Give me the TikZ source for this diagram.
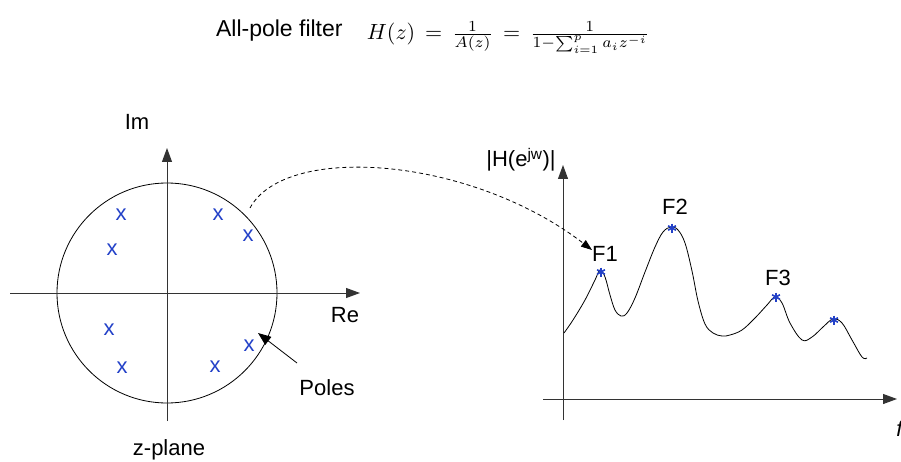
\documentclass[tikz,border=0pt]{standalone}
\usepackage[no-math]{fontspec}
\setmainfont{Liberation Sans}
\usepackage{amsmath}
\usetikzlibrary{arrows.meta}
\usetikzlibrary{calc}
\definecolor{polecol}{RGB}{35,65,200}

\begin{document}
\begin{tikzpicture}[x=1pt, y=1pt, line width=0.8pt,
        axis/.style = {draw=black!80, line width=1pt, -{Triangle[length=14pt, width=10pt]}},
        pole/.style = {text=polecol, inner sep=0pt, font=\fontsize{22}{24}\selectfont},
        starline/.style = {draw=polecol, line width=1.6pt},
        lbl/.style = {anchor=base, inner sep=0pt, font=\fontsize{22}{24}\selectfont}]
    \useasboundingbox (0,0) rectangle (901,461);

    % title
    \node[lbl, anchor=base east, font=\fontsize{23}{26}\selectfont] (title) at (343,424) {All-pole filter};
    \node[anchor=base west, inner sep=0pt, scale=2.2, transform shape] (formula) at (366,421)
        {$H(z)\,=\,\frac{1}{A(z)}\,=\,\frac{1}{1-\sum_{i=1}^{p}a_iz^{-i}}$};

    % z-plane
    \coordinate (o) at (167,168);
    \coordinate (reL) at (10,168);
    \coordinate (reR) at (360,168);
    \coordinate (imB) at (167,40);
    \coordinate (imT) at (167,313);
    \draw (o) circle (110);
    \draw[axis] (reL) -- (reR);
    \draw[axis] (imB) -- (imT);
    \node[lbl] (im) at (137,331) {Im};
    \node[lbl] (re) at (345,139) {Re};
    \node[lbl] (zplane) at (169,6) {z-plane};
    \node[lbl] (poles) at (327,66) {Poles};

    \node[pole] (p1) at (121,246) {x};
    \node[pole] (p2) at (112,211) {x};
    \node[pole] (p3) at (218,246) {x};
    \node[pole] (p4) at (248,225) {x};
    \node[pole] (p5) at (109,131) {x};
    \node[pole] (p6) at (122,93) {x};
    \node[pole] (p7) at (215,94) {x};
    \node[pole] (p8) at (249,115) {x};

    \coordinate (pt) at (297,98);
    \coordinate (ph) at (258,128);
    \draw[-{Triangle[length=13pt, width=10pt]}] (pt) -- (ph);

    % spectrum
    \coordinate (fB) at (563,41);
    \coordinate (fT) at (563,296);
    \coordinate (fL) at (543,62);
    \coordinate (fR) at (897,62);
    \draw[axis] (fB) -- (fT);
    \draw[axis] (fL) -- (fR);
    \node[lbl] (mag) at (521,294) {|H(e\textsuperscript{jw})|};
    \node[lbl, anchor=base west, font=\fontsize{22}{24}\itshape] (freq) at (896,25) {f};

    \draw plot[smooth, tension=0.6] coordinates {(564,128) (573,141) (585,161) (595,181) (600,191)
        (605,184) (610,166) (615,151) (621,145) (627,148) (635,163) (645,189) (655,214) (663,229)
        (671,234) (678,231) (685,218) (692,190) (698,160) (705,137) (713,128) (722,125) (730,126)
        (742,131) (755,143) (767,156) (775,164) (782,158) (790,138) (802,121) (812,124) (823,134)
        (833,142) (842,138) (852,121) (862,104) (867,103)};

    \coordinate (s1) at (601,189);
    \coordinate (s2) at (672,233);
    \coordinate (s3) at (776,164);
    \coordinate (s4) at (834,141);
    \foreach \s in {s1,s2,s3,s4}
        \foreach \a in {90,30,-30}
            \draw[starline] ($(\s)+(\a:4.5)$) -- ($(\s)+(\a+180:4.5)$);
    \node[lbl] (fone) at (605,200) {F1};
    \node[lbl] (ftwo) at (675,247) {F2};
    \node[lbl] (fthree) at (778,176) {F3};

    \coordinate (d0) at (250,253);
    \coordinate (d1) at (592,211);
    \draw[dash pattern=on 4pt off 3pt, -{Triangle[length=11pt, width=8pt]}] (d0) .. controls (285,318) and (470,305) .. (d1);
\end{tikzpicture}
\end{document}
